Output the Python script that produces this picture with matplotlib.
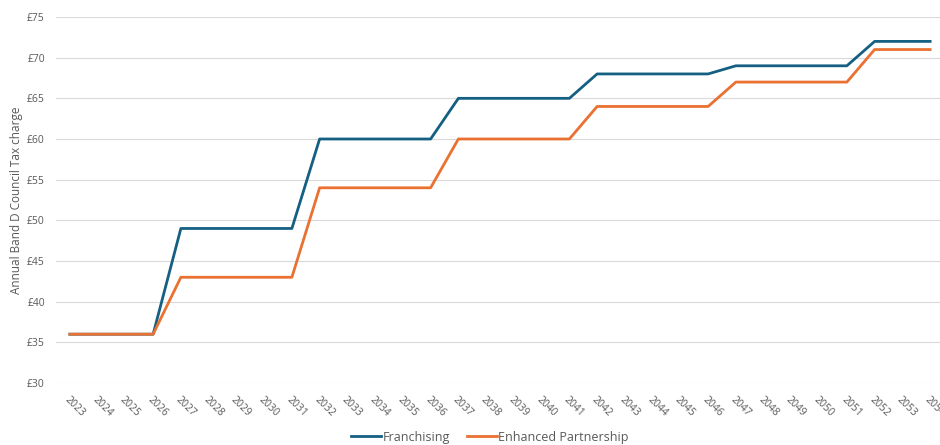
import matplotlib
matplotlib.use("Agg")
import matplotlib.pyplot as plt

plt.rcParams['font.family'] = ['Open Sans', 'DejaVu Sans']

years = [str(y) for y in range(2023, 2055)]
franchising = [36, 36, 36, 36,
               49, 49, 49, 49, 49,
               60, 60, 60, 60, 60,
               65, 65, 65, 65, 65,
               68, 68, 68, 68, 68,
               69, 69, 69, 69, 69,
               72, 72, 72]
enhanced = [36, 36, 36, 36,
            43, 43, 43, 43, 43,
            54, 54, 54, 54, 54,
            60, 60, 60, 60, 60,
            64, 64, 64, 64, 64,
            67, 67, 67, 67, 67,
            71, 71, 71]
y_ticks = list(range(30, 80, 5))

text_col = '#595959'
fig = plt.figure(figsize=(9.4, 4.45), dpi=100)
# axes deliberately runs past the right edge, as in the cropped reference
ax = fig.add_axes([56 / 940, 1 - 383 / 445, 888 / 940, 366 / 445])

xs = range(len(years))
ax.plot(xs, franchising, color='#156082', lw=2.0, label='Franchising', zorder=3)
ax.plot(xs, enhanced, color='#E97132', lw=2.0, label='Enhanced Partnership', zorder=3)

ax.set_xlim(-0.5, len(years) - 0.5)
ax.set_ylim(30, 75)
ax.set_yticks(y_ticks)
ax.set_yticklabels([f'£{v}' for v in y_ticks], color=text_col, fontsize=7.5)
ax.set_xticks(list(xs))
ax.set_xticklabels(years, rotation=-45, ha='left', va='top', rotation_mode='anchor',
                   color=text_col, fontsize=7.5)
ax.tick_params(axis='both', length=0)
ax.tick_params(axis='x', pad=8)
ax.tick_params(axis='y', pad=8)
ax.grid(axis='y', color='#d9d9d9', lw=0.8)
ax.set_axisbelow(True)
for s in ax.spines.values():
    s.set_visible(False)

ax.set_ylabel('Annual Band D Council Tax charge', color=text_col, fontsize=8.5, labelpad=3)

fig.legend(loc='center', bbox_to_anchor=(490 / 940, 1 - 437 / 445), ncol=2, frameon=False,
           fontsize=9, labelcolor=text_col, handlelength=2.4, handletextpad=0.1,
           columnspacing=1.4)

fig.savefig('out.png', dpi=100)
